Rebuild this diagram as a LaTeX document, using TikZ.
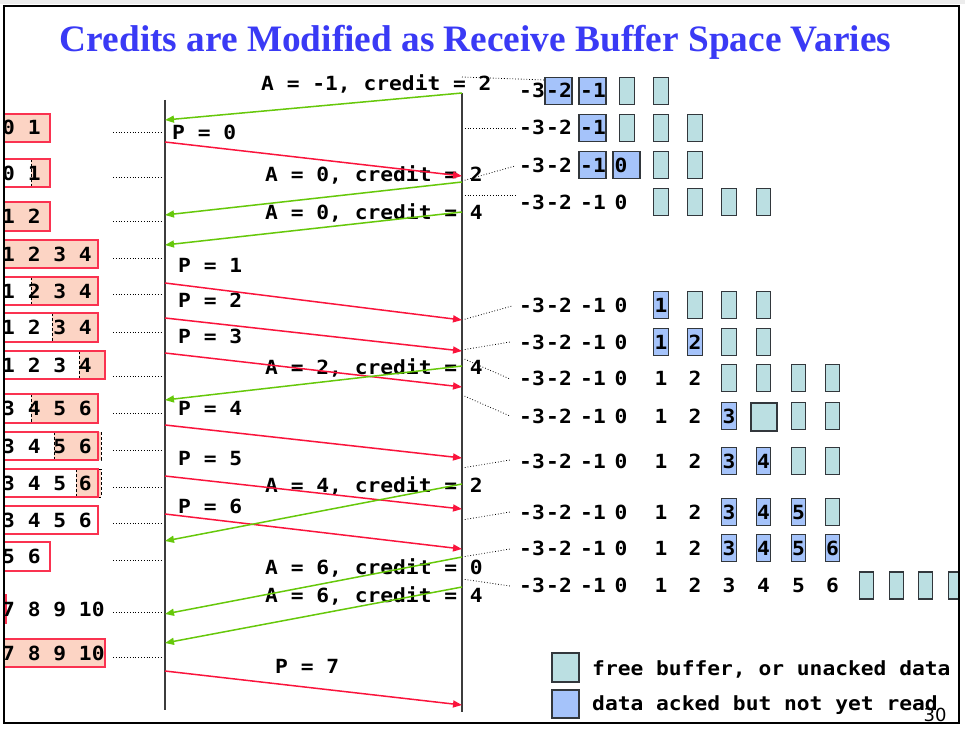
\documentclass[tikz,border=0pt]{standalone}
\usepackage{fontspec}
\setmainfont{Liberation Serif}
\newfontfamily\monofam{DejaVu Sans Mono}[FakeStretch=1.09]
\newfontfamily\pagefam{DejaVu Sans}
\usetikzlibrary{arrows.meta}
\definecolor{titleblue}{RGB}{58,58,245}
\definecolor{redarrow}{RGB}{250,20,60}
\definecolor{greenarrow}{RGB}{102,200,10}
\definecolor{rededge}{RGB}{250,50,80}
\definecolor{peach}{RGB}{252,212,196}
\definecolor{bluefill}{RGB}{165,195,250}
\definecolor{cyanfill}{RGB}{187,223,226}
\definecolor{boxedge}{RGB}{50,55,60}
\definecolor{linegrey}{RGB}{60,60,60}
\newcommand\rowfont{\fontsize{19.5}{22}\selectfont\monofam\bfseries}
\newcommand\widebox[3]{\draw[#1] (#2,{#3-13.5}) rectangle ({#2+27},{#3+13.5});}
\newcommand\slotbox[3]{\draw[#1] ({#2-7.25},{#3-13.5}) rectangle ({#2+7.25},{#3+13.5});}
\newcommand\rnum[4]{\node[txt] (#1) at (#2,{#3+7}) {#4};}
\newcommand\negrow[2]{\rnum{#1a}{532}{#2}{-3}\rnum{#1b}{559}{#2}{-2}\rnum{#1c}{593}{#2}{-1}\rnum{#1d}{621}{#2}{0}}
\tikzset{
  txt/.style={font=\rowfont, inner sep=0pt, anchor=base},
  lbl/.style={font=\rowfont, inner sep=0pt, anchor=base west},
  cya/.style={draw=boxedge, fill=cyanfill, line width=1.3pt},
  blu/.style={draw=boxedge, fill=bluefill, line width=1.3pt},
  sbox/.style={draw=rededge, line width=1.3pt},
  pdash/.style={draw=black, dashed, dash pattern=on 3pt off 2pt, fill=peach, line width=0.8pt},
  dotline/.style={dotted, line width=0.8pt},
  timeline/.style={line width=1.4pt, draw=linegrey},
  data/.style={draw=redarrow, line width=1.5pt, -{Triangle[length=9pt,width=7pt]}},
  ack/.style={draw=greenarrow, line width=1.5pt, -{Triangle[length=9pt,width=7pt]}},
}
\begin{document}
\begin{tikzpicture}[x=1pt,y=-1pt]
\useasboundingbox (0,0) rectangle (965,730);
\fill[gray!15] (0,0) rectangle (965,4);
% title
\node[font=\fontsize{37.3}{40}\selectfont\bfseries, text=titleblue, anchor=base, inner sep=0pt] (title) at (475.5,52) {Credits are Modified as Receive Buffer Space Varies};

\begin{scope}
\clip (5,7) rectangle (958,722);
% sender-side buffers
\fill[peach] (0,114) rectangle (50,142); \draw[sbox] (0,114) rectangle (50,142);
\node[lbl] (s1) at (2,135) {0 1};
\draw[pdash] (31,159) rectangle (50,187); \draw[sbox] (0,159) rectangle (50,187);
\node[lbl] (s2) at (2,180) {0 1};
\fill[peach] (0,202) rectangle (50,231); \draw[sbox] (0,202) rectangle (50,231);
\node[lbl] (s3) at (2,223.5) {1 2};
\fill[peach] (0,240) rectangle (98,268); \draw[sbox] (0,240) rectangle (98,268);
\node[lbl] (s4) at (2,261) {1 2 3 4};
\draw[pdash] (31,277) rectangle (98,305); \draw[sbox] (0,277) rectangle (98,305);
\node[lbl] (s5) at (2,298) {1 2 3 4};
\draw[pdash] (52,313) rectangle (98,342); \draw[sbox] (0,313) rectangle (98,342);
\node[lbl] (s6) at (2,334.5) {1 2 3 4};
\draw[pdash] (79,351) rectangle (105,379); \draw[sbox] (0,351) rectangle (105,379);
\node[lbl] (s7) at (2,372) {1 2 3 4};
\draw[pdash] (31,394) rectangle (98,423); \draw[sbox] (0,394) rectangle (98,423);
\node[lbl] (s8) at (2,415.5) {3 4 5 6};
\draw[pdash] (54,432) rectangle (101,460); \draw[sbox] (0,432) rectangle (98,460);
\node[lbl] (s9) at (2,453) {3 4 5 6};
\draw[pdash] (76,469) rectangle (101,497); \draw[sbox] (0,469) rectangle (98,497);
\node[lbl] (s10) at (2,490) {3 4 5 6};
\draw[sbox] (0,506) rectangle (98,534);
\node[lbl] (s11) at (2,527) {3 4 5 6};
\draw[sbox] (0,542) rectangle (50,571);
\node[lbl] (s12) at (2,563.5) {5 6};
\draw[sbox] (-40,595) rectangle (6,623);
\node[lbl] (s13) at (2,616) {7 8 9 10};
\fill[peach] (0,639) rectangle (105,667); \draw[sbox] (0,639) rectangle (105,667);
\node[lbl] (s14) at (2,660) {7 8 9 10};

% receiver-side buffers
% R1
\widebox{blu}{545}{91}\widebox{blu}{579}{91}\slotbox{cya}{627}{91}\slotbox{cya}{661}{91}
\rnum{r1a}{532}{91}{-3}\rnum{r1b}{559}{91}{-2}\rnum{r1c}{593}{91}{-1}
% R2
\widebox{blu}{579}{128}\slotbox{cya}{627}{128}\slotbox{cya}{661}{128}\slotbox{cya}{695}{128}
\rnum{r2a}{532}{128}{-3}\rnum{r2b}{559}{128}{-2}\rnum{r2c}{593}{128}{-1}
% R3
\widebox{blu}{579}{165}\widebox{blu}{613}{165}\slotbox{cya}{661}{165}\slotbox{cya}{695}{165}
\negrow{r3}{165}
% R4
\slotbox{cya}{661}{202}\slotbox{cya}{695}{202}\slotbox{cya}{729}{202}\slotbox{cya}{763.5}{202}
\negrow{r4}{202}
% R5
\slotbox{blu}{661}{305}\slotbox{cya}{695}{305}\slotbox{cya}{729}{305}\slotbox{cya}{763.5}{305}
\negrow{r5}{305}\rnum{r5e}{661}{305}{1}
% R6
\slotbox{blu}{661}{342}\slotbox{blu}{695}{342}\slotbox{cya}{729}{342}\slotbox{cya}{763.5}{342}
\negrow{r6}{342}\rnum{r6e}{661}{342}{1}\rnum{r6f}{695}{342}{2}
% R7
\slotbox{cya}{729}{378}\slotbox{cya}{763.5}{378}\slotbox{cya}{798.5}{378}\slotbox{cya}{832.5}{378}
\negrow{r7}{378}\rnum{r7e}{661}{378}{1}\rnum{r7f}{695}{378}{2}
% R8
\slotbox{blu}{729}{416}\draw[cya] (751,403) rectangle (777,431);\slotbox{cya}{798.5}{416}\slotbox{cya}{832.5}{416}
\negrow{r8}{416}\rnum{r8e}{661}{416}{1}\rnum{r8f}{695}{416}{2}\rnum{r8g}{729}{416}{3}
% R9
\slotbox{blu}{729}{461}\slotbox{blu}{763.5}{461}\slotbox{cya}{798.5}{461}\slotbox{cya}{832.5}{461}
\negrow{r9}{461}\rnum{r9e}{661}{461}{1}\rnum{r9f}{695}{461}{2}\rnum{r9g}{729}{461}{3}\rnum{r9h}{763.5}{461}{4}
% R10
\slotbox{blu}{729}{512}\slotbox{blu}{763.5}{512}\slotbox{blu}{798.5}{512}\slotbox{cya}{832.5}{512}
\negrow{r10}{512}\rnum{r10e}{661}{512}{1}\rnum{r10f}{695}{512}{2}\rnum{r10g}{729}{512}{3}\rnum{r10h}{763.5}{512}{4}\rnum{r10i}{798.5}{512}{5}
% R11
\slotbox{blu}{729}{548}\slotbox{blu}{763.5}{548}\slotbox{blu}{798.5}{548}\slotbox{blu}{832.5}{548}
\negrow{r11}{548}\rnum{r11e}{661}{548}{1}\rnum{r11f}{695}{548}{2}\rnum{r11g}{729}{548}{3}\rnum{r11h}{763.5}{548}{4}\rnum{r11i}{798.5}{548}{5}\rnum{r11j}{832.5}{548}{6}
% R12
\slotbox{cya}{866.5}{585.5}\slotbox{cya}{896.5}{585.5}\slotbox{cya}{925.5}{585.5}\slotbox{cya}{955.5}{585.5}
\negrow{r12}{585}\rnum{r12e}{661}{585}{1}\rnum{r12f}{695}{585}{2}\rnum{r12g}{729}{585}{3}\rnum{r12h}{763.5}{585}{4}\rnum{r12i}{798.5}{585}{5}\rnum{r12j}{832.5}{585}{6}
\end{scope}

% dotted leaders, sender side
\foreach \i/\y in {1/132,2/177,3/221,4/258,5/294,6/332,7/376,8/413,9/450,10/487,11/523,12/560,13/612,14/657}{
  \coordinate (sda\i) at (113,\y); \coordinate (sdb\i) at (163,\y);
  \draw[dotline] (sda\i) -- (sdb\i);
}
% dotted leaders, receiver side
\foreach \i/\ya/\xb/\yb in {1/77/545/80,2/128/517/128,3/181/515/166,4/195/517/195,5/320/512/306,6/350/510/342,7/358/510/379,8/395/510/416,9/468/510/460,10/520/510/512,11/557/510/549,12/579/510/586}{
  \coordinate (rda\i) at (462,\ya); \coordinate (rdb\i) at (\xb,\yb);
  \draw[dotline] (rda\i) -- (rdb\i);
}

% time lines
\coordinate (sendtop) at (165,100); \coordinate (sendbot) at (165,710);
\coordinate (recvtop) at (462,93); \coordinate (recvbot) at (462,712);
\draw[timeline] (sendtop) -- (sendbot);
\draw[timeline] (recvtop) -- (recvbot);

% labels
\node[lbl] (la1) at (261,91) {A = -1, credit = 2};
\node[lbl] (lp0) at (172,140) {P = 0};
\node[lbl] (la2) at (265,182) {A = 0, credit = 2};
\node[lbl] (la3) at (265,219) {A = 0, credit = 4};
\node[lbl] (lp1) at (178,272) {P = 1};
\node[lbl] (lp2) at (178,307) {P = 2};
\node[lbl] (lp3) at (178,343) {P = 3};
\node[lbl] (la4) at (265,374) {A = 2, credit = 4};
\node[lbl] (lp4) at (178,415) {P = 4};
\node[lbl] (lp5) at (178,465) {P = 5};
\node[lbl] (la5) at (265,492) {A = 4, credit = 2};
\node[lbl] (lp6) at (178,513) {P = 6};
\node[lbl] (la6) at (265,574) {A = 6, credit = 0};
\node[lbl] (la7) at (265,602) {A = 6, credit = 4};
\node[lbl] (lp7) at (275,673) {P = 7};

% data packets (sender -> receiver)
\foreach \n/\ya/\yb in {0/142/176,1/283/320,2/318/351,3/353/387,4/425/458,5/476/509,6/514/549,7/671/705}{
  \coordinate (pk\n a) at (165,\ya); \coordinate (pk\n b) at (462,\yb);
  \draw[data] (pk\n a) -- (pk\n b);
}
% acks (receiver -> sender)
\foreach \n/\ya/\yb in {1/93/120,2/182/215,3/212/245,4/366/400,5/484/541,6/557/614,7/587/643}{
  \coordinate (ak\n a) at (462,\ya); \coordinate (ak\n b) at (165,\yb);
  \draw[ack] (ak\n a) -- (ak\n b);
}

% legend
\draw[cya] (552,653) rectangle (579,682);
\node[lbl] (leg1) at (592,675) {free buffer, or unacked data};
\draw[blu] (552,690) rectangle (579,718);
\node[lbl] (leg2) at (592,710) {data acked but not yet read};

% frame
\draw[line width=2.2pt] (4,6) rectangle (959,723);
\node[font=\pagefam\fontsize{18}{20}\selectfont, anchor=base, inner sep=0pt] (pg) at (935,721) {30};
\end{tikzpicture}
\end{document}
